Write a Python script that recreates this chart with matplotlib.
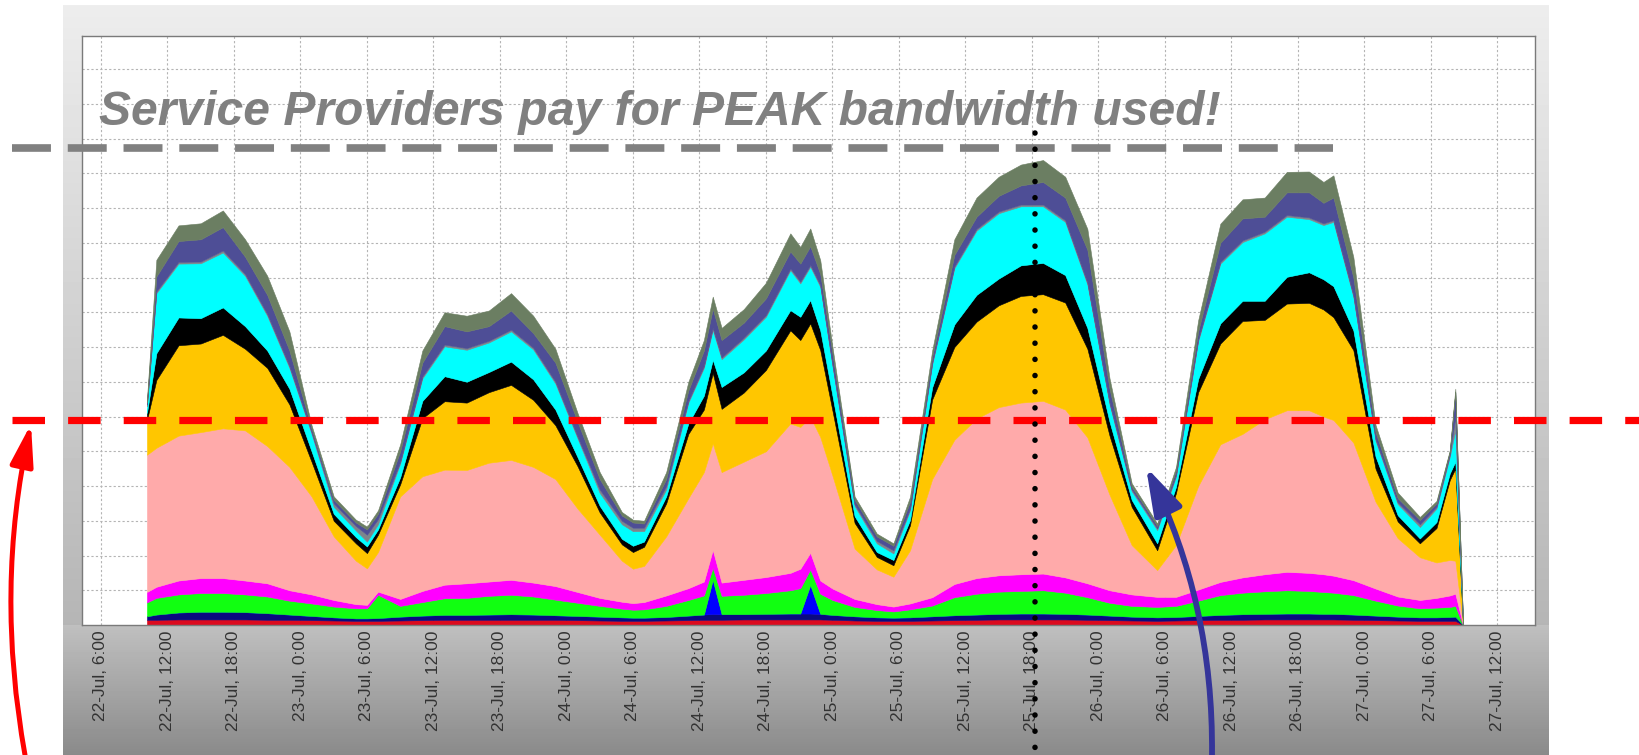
import numpy as np
import matplotlib.pyplot as plt
from matplotlib.patches import FancyArrowPatch

# hours since 22-Jul 0:00 for every sample
T_HOURS = [10.15, 11, 13, 15, 17, 19, 21, 23, 25, 27,
           29, 30, 31, 33, 35, 37, 39, 41, 43, 45,
           47, 49, 51, 53, 54, 55, 57, 59, 60.4, 61.2,
           62, 64, 66, 68.2, 69.1, 70, 70.9, 72, 74, 76,
           77.5, 79, 81, 83, 85, 87, 89, 91, 93, 95,
           97, 99, 101.3, 103, 105, 107, 109, 111, 113, 115,
           116.3, 117.2, 119, 121, 123, 125, 126.5, 127.7, 128.2, 128.9]

# cumulative top of each stacked band (bottom band first)
RED = [.15, .15, .16, .16, .16, .16, .15, .15, .14, .13,
       .12, .12, .12, .13, .14, .15, .15, .15, .15, .15,
       .15, .14, .13, .12, .12, .12, .13, .14, .15, .15,
       .15, .16, .16, .16, .16, .16, .16, .15, .13, .12,
       .12, .12, .13, .14, .15, .16, .16, .16, .16, .15,
       .14, .13, .12, .13, .14, .15, .15, .16, .16, .16,
       .16, .16, .15, .14, .13, .12, .12, .12, .12, 0]
NAVY = [.25, .30, .36, .38, .38, .37, .34, .30, .26, .22,
        .19, .19, .20, .24, .27, .29, .29, .30, .31, .30,
        .28, .26, .24, .22, .21, .21, .23, .27, .30, .32,
        .31, .31, .32, .33, .33, .33, .32, .29, .25, .22,
        .21, .22, .25, .28, .30, .32, .33, .33, .32, .30,
        .27, .24, .22, .23, .26, .29, .31, .32, .33, .33,
        .32, .32, .30, .27, .24, .22, .22, .23, .24, 0]
BLUE = [.25, .30, .36, .38, .38, .37, .34, .30, .26, .22,
        .19, .19, .20, .24, .27, .29, .29, .30, .31, .30,
        .28, .26, .24, .22, .21, .21, .23, .27, .30, 1.30,
        .31, .31, .32, .33, .33, 1.15, .32, .29, .25, .22,
        .21, .22, .25, .28, .30, .32, .33, .33, .32, .30,
        .27, .24, .22, .23, .26, .29, .31, .32, .33, .33,
        .32, .32, .30, .27, .24, .22, .22, .23, .24, 0]
GREEN = [.65, .78, .88, .92, .92, .88, .82, .70, .62, .53,
         .48, .48, .87, .55, .66, .77, .78, .84, .87, .82,
         .73, .64, .55, .47, .44, .45, .55, .72, .85, 1.65,
         .84, .87, .92, 1.00, 1.06, 1.60, .90, .72, .52, .43,
         .39, .45, .56, .80, .90, .96, .98, 1.00, .93, .80,
         .64, .55, .52, .55, .70, .86, .93, .97, 1.00, .98,
         .95, .93, .86, .70, .56, .48, .50, .52, .55, 0]
MAGENTA = [.95, 1.10, 1.28, 1.35, 1.35, 1.28, 1.20, 1.00, .88, .72,
           .60, .58, .96, .75, .98, 1.16, 1.20, 1.25, 1.30, 1.22,
           1.12, .95, .78, .67, .63, .66, .85, 1.06, 1.25, 2.16,
           1.22, 1.30, 1.38, 1.50, 1.62, 2.08, 1.28, 1.05, .75, .60,
           .53, .62, .80, 1.18, 1.35, 1.43, 1.46, 1.48, 1.37, 1.20,
           1.00, .88, .81, .81, 1.02, 1.24, 1.37, 1.46, 1.53, 1.50,
           1.46, 1.42, 1.29, 1.05, .82, .72, .78, .85, .90, 0]
PINK = [4.9, 5.1, 5.45, 5.55, 5.66, 5.6, 5.15, 4.55, 3.7, 2.55,
        1.85, 1.63, 2.1, 3.7, 4.28, 4.47, 4.46, 4.67, 4.75, 4.55,
        4.2, 3.35, 2.6, 1.85, 1.62, 1.7, 2.55, 3.65, 4.4, 5.23,
        4.4, 4.7, 5.0, 5.8, 5.7, 5.99, 5.41, 4.3, 2.2, 1.6,
        1.39, 2.15, 4.2, 5.33, 5.94, 6.27, 6.4, 6.45, 6.2, 5.4,
        3.75, 2.3, 1.58, 2.3, 4.0, 5.2, 5.5, 5.92, 6.18, 6.18,
        6.0, 5.9, 5.25, 3.55, 2.5, 1.95, 1.8, 1.87, 1.85, 0]
GOLD = [5.9, 7.05, 8.05, 8.1, 8.35, 7.95, 7.4, 6.35, 4.7, 3.0,
        2.35, 2.07, 2.6, 4.05, 5.95, 6.44, 6.4, 6.7, 6.91, 6.48,
        5.75, 4.57, 3.24, 2.32, 2.1, 2.25, 3.5, 5.5, 6.2, 7.25,
        6.22, 6.69, 7.34, 8.48, 8.2, 8.68, 7.91, 6.17, 2.94, 1.96,
        1.72, 2.87, 6.49, 8.0, 8.73, 9.2, 9.47, 9.52, 9.28, 7.95,
        5.45, 3.4, 2.15, 3.8, 6.7, 8.1, 8.75, 8.78, 9.25, 9.27,
        9.08, 8.86, 7.91, 4.5, 2.98, 2.35, 2.79, 4.17, 4.5, 0]
BLACK = [6.1, 7.82, 8.85, 8.83, 9.14, 8.6, 7.9, 6.8, 5.0, 3.2,
         2.53, 2.26, 2.75, 4.25, 6.45, 7.16, 7.0, 7.28, 7.58, 7.07,
         6.2, 4.83, 3.43, 2.48, 2.28, 2.4, 3.7, 5.8, 6.6, 7.63,
         6.85, 7.27, 7.9, 9.06, 8.87, 9.35, 8.48, 6.6, 3.13, 2.1,
         1.87, 3.02, 6.84, 8.65, 9.5, 9.97, 10.35, 10.42, 10.07, 8.55,
         5.85, 3.6, 2.35, 3.98, 7.08, 8.68, 9.33, 9.33, 10.02, 10.15,
         9.95, 9.75, 8.48, 4.85, 3.16, 2.49, 2.96, 4.36, 4.7, 0]
CYAN = [6.3, 9.55, 10.4, 10.41, 10.72, 10.05, 8.9, 7.4, 5.5, 3.4,
        2.72, 2.4, 2.9, 4.65, 7.1, 8.02, 7.92, 8.13, 8.45, 7.93,
        6.95, 5.37, 3.8, 2.9, 2.7, 2.7, 3.9, 6.4, 7.4, 8.49,
        7.65, 8.22, 8.87, 10.21, 9.83, 10.31, 9.73, 7.45, 3.42, 2.35,
        2.06, 3.3, 7.5, 10.27, 11.35, 11.85, 12.05, 12.05, 11.6, 9.8,
        6.35, 3.85, 2.73, 4.27, 8.17, 10.4, 11.02, 11.27, 11.75, 11.68,
        11.51, 11.6, 9.44, 5.3, 3.48, 2.82, 3.35, 4.84, 5.6, 0]
GRAY = [6.35, 9.6, 10.45, 10.46, 10.78, 10.1, 8.95, 7.45, 5.55, 3.5,
        2.85, 2.6, 3.05, 4.7, 7.15, 8.07, 7.97, 8.18, 8.5, 7.98,
        7.0, 5.42, 3.9, 3.0, 2.8, 2.8, 4.0, 6.45, 7.45, 8.55,
        7.7, 8.27, 8.92, 10.26, 9.88, 10.36, 9.78, 7.5, 3.47, 2.42,
        2.15, 3.35, 7.55, 10.32, 11.4, 11.9, 12.1, 12.1, 11.65, 9.85,
        6.4, 3.9, 2.78, 4.32, 8.22, 10.45, 11.07, 11.32, 11.8, 11.73,
        11.56, 11.65, 9.49, 5.35, 3.53, 2.9, 3.4, 4.9, 6.0, 0]
PURPLE = [6.4, 10.03, 11.05, 11.1, 11.45, 10.6, 9.5, 7.9, 5.65, 3.6,
          2.95, 2.75, 3.2, 5.0, 7.55, 8.6, 8.45, 8.6, 9.05, 8.4,
          7.55, 5.85, 4.2, 3.15, 2.95, 2.92, 4.2, 6.75, 7.9, 9.1,
          8.2, 8.7, 9.4, 10.75, 10.4, 10.9, 10.1, 7.8, 3.6, 2.55,
          2.28, 3.55, 7.72, 10.65, 11.75, 12.35, 12.65, 12.75, 12.3, 10.8,
          6.8, 3.98, 2.85, 4.45, 8.45, 11.0, 11.7, 11.75, 12.45, 12.45,
          12.15, 12.3, 10.0, 5.55, 3.65, 3.02, 3.5, 4.98, 6.7, 0]
OLIVE = [6.5, 10.51, 11.5, 11.56, 11.93, 11.1, 10.05, 8.45, 5.75, 3.7,
         3.03, 2.83, 3.3, 5.2, 7.9, 9.0, 8.9, 9.05, 9.55, 8.9,
         7.95, 6.1, 4.4, 3.25, 3.03, 3.0, 4.4, 7.0, 8.2, 9.45,
         8.55, 9.09, 9.85, 11.27, 10.88, 11.41, 10.5, 8.0, 3.7, 2.63,
         2.35, 3.69, 7.9, 11.1, 12.3, 12.9, 13.25, 13.38, 12.9, 11.4,
         7.1, 4.08, 2.92, 4.55, 8.77, 11.55, 12.25, 12.3, 13.04, 13.05,
         12.75, 12.94, 10.59, 5.76, 3.81, 3.11, 3.57, 5.03, 6.8, 0]

BAND_COLORS = ['#dc0a1e', '#0a0a80', '#0000ff', '#11ff11', '#ff00ff', '#ffaaaa',
               '#ffc600', '#000000', '#00ffff', '#7c858c', '#4e4e96', '#6b7e62']

TICK_HOURS = list(range(6, 133, 6))
TICK_LABELS = ['22-Jul, 6:00', '22-Jul, 12:00', '22-Jul, 18:00',
               '23-Jul, 0:00', '23-Jul, 6:00', '23-Jul, 12:00', '23-Jul, 18:00',
               '24-Jul, 0:00', '24-Jul, 6:00', '24-Jul, 12:00', '24-Jul, 18:00',
               '25-Jul, 0:00', '25-Jul, 6:00', '25-Jul, 12:00', '25-Jul, 18:00',
               '26-Jul, 0:00', '26-Jul, 6:00', '26-Jul, 12:00', '26-Jul, 18:00',
               '27-Jul, 0:00', '27-Jul, 6:00', '27-Jul, 12:00']

# annotation levels (same units as the y axis)
PEAK_LEVEL = 13.73
AVERAGE_LEVEL = 5.9
MARKER_HOUR = 90.3

W, H = 1639, 755
fig = plt.figure(figsize=(W / 100, H / 100), dpi=100)

# grey frame behind the chart: light at the top, darker band under the plot
frame = fig.add_axes([63 / W, 0, (1549 - 63) / W, 750 / H])
rows = np.arange(5, 755)
shade = np.where(rows < 625,
                 0.93 - 0.22 * (rows - 5) / 620,
                 0.75 - 0.21 * (rows - 625) / 130)
frame.imshow(shade[:, None], cmap='gray', vmin=0, vmax=1, aspect='auto')
frame.axis('off')

ax = fig.add_axes([82 / W, 1 - 625 / H, (1535 - 82) / W, (625 - 36) / H])
ax.set_facecolor('white')

t = np.array(T_HOURS)
tops = [RED, NAVY, BLUE, GREEN, MAGENTA, PINK, GOLD, BLACK, CYAN, GRAY, PURPLE, OLIVE]
bottom = np.zeros(len(t))
for top, color in zip(tops, BAND_COLORS):
    top = np.array(top)
    ax.fill_between(t, bottom, top, facecolor=color, edgecolor=color, linewidth=0.4)
    bottom = top

ax.set_xlim(4.29, 135.39)
ax.set_ylim(0, 16.95)
ax.set_xticks(TICK_HOURS)
ax.set_xticklabels(TICK_LABELS, rotation=90, fontsize=12.5, color='#333333',
                   family='Liberation Sans')
ax.set_yticks(np.arange(1, 17))
ax.tick_params(axis='x', length=0, pad=4)
ax.tick_params(axis='y', length=0, labelleft=False)
ax.grid(True, color='#b4b4b4', linestyle=(0, (2, 2)), linewidth=0.8)
ax.set_axisbelow(True)
for spine in ax.spines.values():
    spine.set_color('#7a7a7a')
    spine.set_linewidth(1)

# dashed reference lines and the dotted marker, running past the plot edges
ax.plot([-1.99, 117.16], [PEAK_LEVEL, PEAK_LEVEL], color='#808080', lw=5.5,
        linestyle=(0, (5.1, 2.2)), clip_on=False, zorder=5)
ax.plot([-2.03, 146], [AVERAGE_LEVEL, AVERAGE_LEVEL], color='#ff0000', lw=5.2,
        linestyle=(0, (4.5, 3.2)), clip_on=False, zorder=5)
ax.plot([MARKER_HOUR, MARKER_HOUR], [14.16, -3.74], color='black', lw=4.0,
        linestyle=(0, (0.01, 2.9)), dash_capstyle='round', clip_on=False, zorder=6)

fig.text(99 / W, 1 - 125 / H, 'Service Providers pay for PEAK bandwidth used!',
         fontsize=34.6, fontweight='bold', fontstyle='italic', color='#808080',
         family='Liberation Sans', va='baseline', ha='left')

# curved arrows
red_arrow = FancyArrowPatch((25 / W, 0), (31 / W, 1 - 424 / H), transform=fig.transFigure,
                            connectionstyle='arc3,rad=-0.1',
                            arrowstyle='-|>,head_length=0.5,head_width=0.14',
                            mutation_scale=50, color='#ff0000', lw=3.6,
                            shrinkA=0, shrinkB=0)
blue_arrow = FancyArrowPatch((1212 / W, 0), (1146 / W, 1 - 467 / H), transform=fig.transFigure,
                             connectionstyle='arc3,rad=0.12',
                             arrowstyle='-|>,head_length=0.58,head_width=0.18',
                             mutation_scale=50, color='#35359a', lw=4.2,
                             shrinkA=0, shrinkB=0)
fig.add_artist(red_arrow)
fig.add_artist(blue_arrow)

fig.savefig('out.png', dpi=100)
